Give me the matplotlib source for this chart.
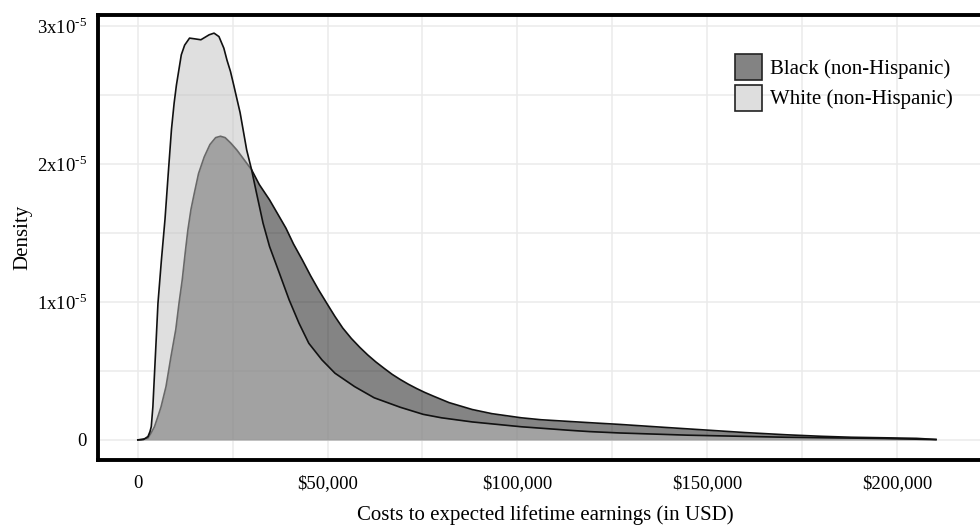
import matplotlib
matplotlib.use("Agg")
import matplotlib.pyplot as plt
from matplotlib.patches import Patch
import numpy as np

plt.rcParams['font.family'] = ['Liberation Serif', 'DejaVu Serif']
plt.rcParams['mathtext.fontset'] = 'custom'
plt.rcParams['mathtext.rm'] = 'Liberation Serif'

# density curves (x in USD, density in units of 1e-5)
white_x = np.array([0, 1500, 2660, 3200, 3540, 3960, 4390, 4830, 5300, 6200,
                    7160, 8010, 8860, 9560, 10160, 11450, 12330, 13620, 14910, 16610,
                    18790, 20080, 21370, 22660, 23500, 24400, 25250, 26950, 28680, 29970,
                    31270, 32990, 34700, 37290, 39870, 42450, 45040, 48490, 51940, 57110,
                    62270, 69170, 75190, 80000, 88110, 101030, 113950, 119000, 127000, 145000,
                    170800, 196640, 210300])
white_y = np.array([0, 0.003, 0.024, 0.06, 0.096, 0.24, 0.48, 0.725, 0.99, 1.30,
                    1.60, 1.93, 2.25, 2.44, 2.57, 2.79, 2.86, 2.911, 2.906, 2.899,
                    2.935, 2.947, 2.922, 2.838, 2.75, 2.67, 2.572, 2.37, 2.10, 1.957,
                    1.788, 1.57, 1.401, 1.208, 1.014, 0.846, 0.70, 0.58, 0.483, 0.386,
                    0.305, 0.236, 0.185, 0.160, 0.130, 0.095, 0.069, 0.060, 0.050, 0.034,
                    0.019, 0.010, 0.002]) * 1e-5

black_x = np.array([0, 1000, 2660, 3500, 4390, 5300, 6120, 7420, 8710, 10000,
                    10850, 11700, 12500, 13180, 14000, 14900, 16000, 17490, 19000, 20500,
                    21780, 23000, 24500, 26100, 28000, 29970, 32000, 34700, 37000, 39020,
                    41000, 43330, 45500, 47620, 50000, 51940, 54000, 56250, 58500, 60550,
                    62700, 64860, 67000, 69170, 71300, 73460, 75500, 77780, 82000, 88110,
                    93280, 101030, 106200, 113950, 120000, 127000, 138000, 149270, 160000, 170800,
                    180000, 188030, 197000, 205200, 210300])
black_y = np.array([0, 0.003, 0.012, 0.05, 0.096, 0.17, 0.24, 0.386, 0.60, 0.80,
                    0.99, 1.16, 1.36, 1.52, 1.67, 1.79, 1.93, 2.05, 2.14, 2.19,
                    2.20, 2.19, 2.15, 2.10, 2.03, 1.957, 1.85, 1.739, 1.63, 1.534,
                    1.42, 1.304, 1.19, 1.087, 0.98, 0.894, 0.81, 0.735, 0.67, 0.616,
                    0.565, 0.519, 0.475, 0.437, 0.403, 0.372, 0.345, 0.318, 0.270, 0.220,
                    0.190, 0.160, 0.146, 0.133, 0.123, 0.112, 0.092, 0.072, 0.053, 0.037,
                    0.026, 0.019, 0.015, 0.011, 0.003]) * 1e-5

groups = ["Black (non-Hispanic)", "White (non-Hispanic)"]
x_ticks = [0, 50000, 100000, 150000, 200000]
x_labels = ["0", "$50,000", "$100,000", "$150,000", "$200,000"]
y_ticks = [0, 1e-5, 2e-5, 3e-5]
y_labels = ["0", r"1x10$^{\text{-5}}$", r"2x10$^{\text{-5}}$", r"3x10$^{\text{-5}}$"]

fig = plt.figure(figsize=(9.8, 5.28), dpi=100)
ax = fig.add_axes([0.1, 0.129, 0.912, 0.843])

ax.fill_between(black_x, black_y, 0, color="#0a0a0a", alpha=0.5, lw=0, zorder=2)
ax.plot(black_x, black_y, color="#111111", lw=1.2, zorder=2.5)
ax.fill_between(white_x, white_y, 0, color="#c0c0c0", alpha=0.5, lw=0, zorder=3)
ax.plot(white_x, white_y, color="#111111", lw=1.2, zorder=3.5)

ax.set_xlim(-10500, 220500)
ax.set_ylim(-0.145e-5, 3.08e-5)
ax.set_xticks(x_ticks)
ax.set_xticklabels(x_labels)
ax.set_xticks(np.arange(25000, 225001, 50000), minor=True)
ax.set_yticks(y_ticks)
ax.set_yticklabels(y_labels)
ax.set_yticks([0.5e-5, 1.5e-5, 2.5e-5], minor=True)
ax.tick_params(which="both", length=0, labelsize=13.5)
ax.tick_params(axis="x", pad=11)
ax.tick_params(axis="y", pad=8)

ax.grid(True, which="both", color="#ebebeb", lw=1.1, zorder=0)
ax.set_axisbelow(True)

for side in ["left", "bottom", "top"]:
    ax.spines[side].set_linewidth(2.8)
    ax.spines[side].set_color("black")
ax.spines["right"].set_visible(False)

ax.set_xlabel("Costs to expected lifetime earnings (in USD)", fontsize=15, labelpad=9)
ax.set_ylabel("Density", fontsize=15, labelpad=3)

handles = [Patch(facecolor="#838383", edgecolor="#222222", lw=1.2),
           Patch(facecolor="#dedede", edgecolor="#222222", lw=1.2)]
ax.legend(handles, groups, loc="upper left", bbox_to_anchor=(0.703, 0.93),
          frameon=False, fontsize=15, handlelength=1.3, handleheight=1.55,
          handletextpad=0.4, labelspacing=0.2, borderaxespad=0)

fig.savefig("out.png", dpi=100)
